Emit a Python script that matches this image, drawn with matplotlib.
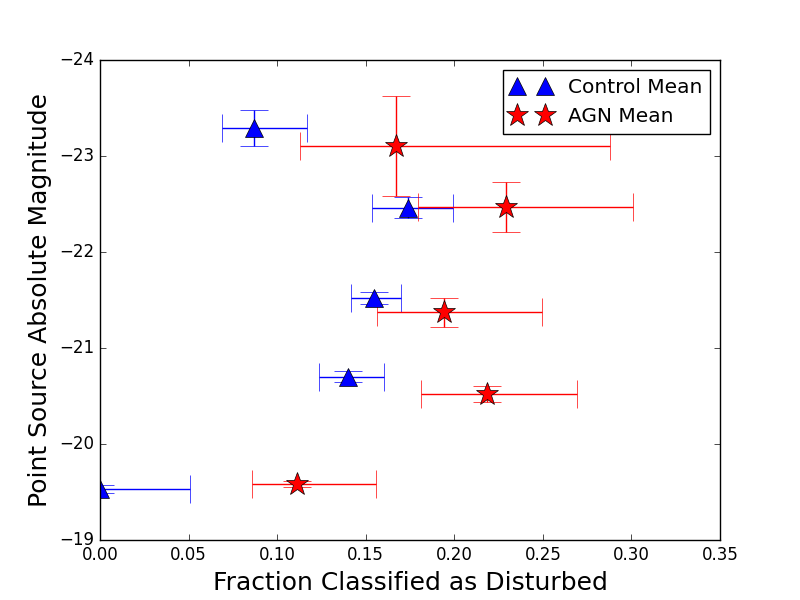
import matplotlib
matplotlib.use("Agg")
import matplotlib.pyplot as plt
import numpy as np

plt.style.use("classic")

# control sample
ctrl_frac = [0.087, 0.174, 0.1547, 0.140, 0.0]
ctrl_frac_lo = [0.018, 0.0204, 0.013, 0.0162, 0.051]
ctrl_frac_hi = [0.030, 0.025, 0.0153, 0.0205, 0.051]
ctrl_mag = [-23.29, -22.46, -21.52, -20.70, -19.53]
ctrl_mag_err = [0.19, 0.11, 0.06, 0.057, 0.04]

# AGN sample
agn_frac = [0.167, 0.2292, 0.1942, 0.2186, 0.1113]
agn_frac_lo = [0.054, 0.0496, 0.038, 0.0376, 0.0256]
agn_frac_hi = [0.121, 0.0715, 0.0554, 0.0504, 0.0447]
agn_mag = [-23.10, -22.47, -21.37, -20.52, -19.58]
agn_mag_err = [0.52, 0.26, 0.15, 0.087, 0.03]

fig, ax = plt.subplots(figsize=(8, 6), dpi=100)

ax.errorbar(ctrl_frac, ctrl_mag, xerr=[ctrl_frac_lo, ctrl_frac_hi], yerr=ctrl_mag_err,
            fmt="none", ecolor="b", capsize=10)
ax.errorbar(agn_frac, agn_mag, xerr=[agn_frac_lo, agn_frac_hi], yerr=agn_mag_err,
            fmt="none", ecolor="r", capsize=10)
ax.plot(ctrl_frac, ctrl_mag, "b^", markersize=13, label="Control Mean")
ax.plot(agn_frac, agn_mag, "r*", markersize=17, label="AGN Mean")

ax.set_xlim(0, 0.35)
ax.set_ylim(-19, -24)
ax.set_xlabel("Fraction Classified as Disturbed", fontsize=18)
ax.set_ylabel("Point Source Absolute Magnitude", fontsize=18)
ax.legend(loc="upper right", numpoints=2, fontsize=14.5)

plt.savefig("out.png", dpi=100)
